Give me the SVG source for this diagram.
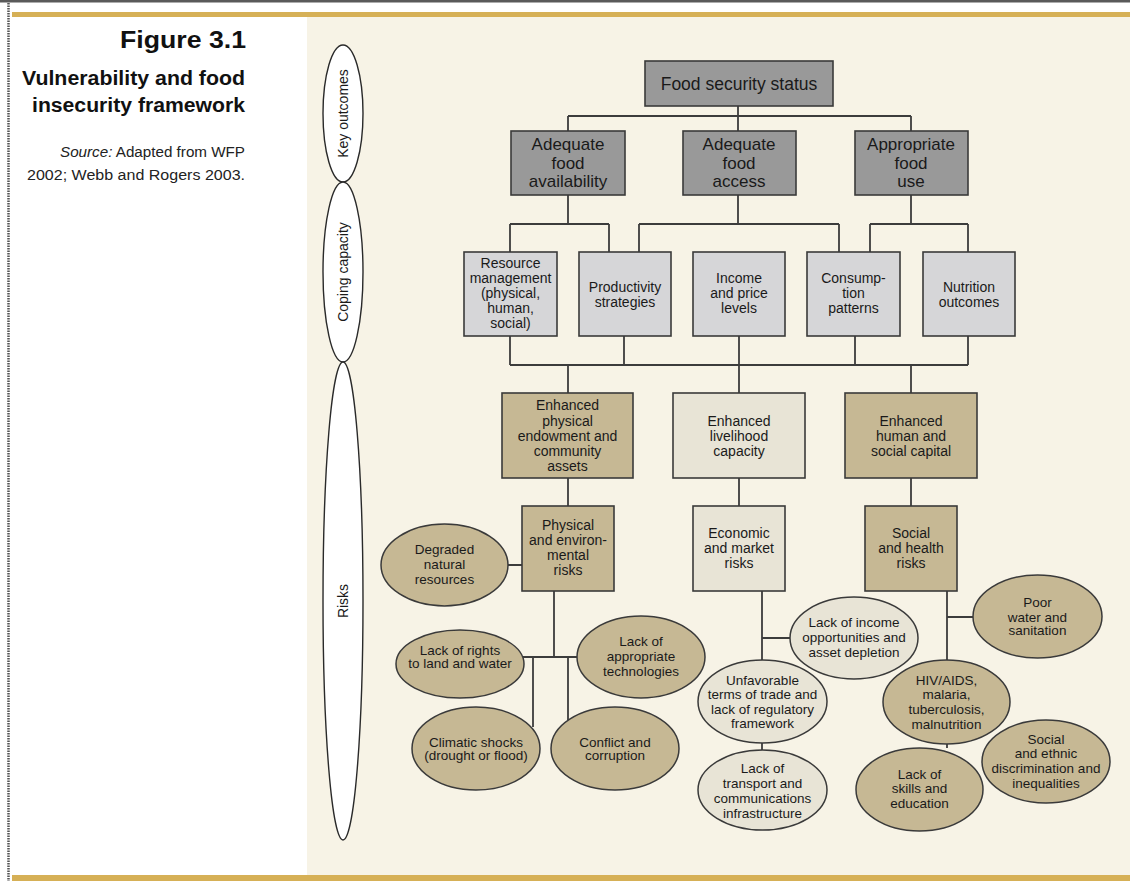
<svg xmlns="http://www.w3.org/2000/svg" width="1130" height="881" viewBox="0 0 1130 881">
<style>
.t{font-family:"Liberation Sans",Arial,sans-serif;fill:#1a1a1a;text-anchor:middle}
.b14{font-size:14px}
.b17{font-size:17px}
.e{font-size:13.5px}
.box{stroke:#3a3a3a;stroke-width:1.6}
.g1{fill:#999999}
.g2{fill:#d6d6d8}
.tan{fill:#c6b894}
.lt{fill:#e8e4d6}
.ell{stroke:#3a3a3a;stroke-width:1.5}
.side{fill:#ffffff;stroke:#2a2a2a;stroke-width:1.4}
.c{stroke:#3c3c3c;stroke-width:1.8;fill:none}
</style>
<rect x="0" y="0" width="1130" height="881" fill="#ffffff"/>
<rect x="0" y="0" width="1130" height="2.5" fill="#5a5a5a"/>
<line x1="8.5" y1="3" x2="8.5" y2="881" stroke="#555" stroke-width="2.5" stroke-dasharray="1.5 1"/>
<rect x="307" y="17" width="823" height="858" fill="#f7f3e6"/>
<rect x="12" y="12" width="1118" height="5" fill="#d6b056"/>
<rect x="12" y="875" width="1118" height="6" fill="#d6b056"/>

<g id="title">
<text x="246" y="48" style="font-family:'Liberation Sans',Arial,sans-serif;font-weight:bold;font-size:23px;fill:#111;text-anchor:end" textLength="126" lengthAdjust="spacingAndGlyphs">Figure 3.1</text>
<text x="245" y="85" style="font-family:'Liberation Sans',Arial,sans-serif;font-weight:bold;font-size:19.5px;fill:#111;text-anchor:end" textLength="223" lengthAdjust="spacingAndGlyphs">Vulnerability and food</text>
<text x="245" y="112" style="font-family:'Liberation Sans',Arial,sans-serif;font-weight:bold;font-size:19.5px;fill:#111;text-anchor:end" textLength="213" lengthAdjust="spacingAndGlyphs">insecurity framework</text>
<text x="245" y="157" style="font-family:'Liberation Sans',Arial,sans-serif;font-size:14px;fill:#222;text-anchor:end" textLength="185" lengthAdjust="spacingAndGlyphs"><tspan font-style="italic">Source:</tspan> Adapted from WFP</text>
<text x="245" y="180" style="font-family:'Liberation Sans',Arial,sans-serif;font-size:14px;fill:#222;text-anchor:end" textLength="218" lengthAdjust="spacingAndGlyphs">2002; Webb and Rogers 2003.</text>
</g>

<g id="side-labels">
<g id="side-key-outcomes"><ellipse class="side" cx="343" cy="113.5" rx="20" ry="68.5"/>
<text class="t" style="font-size:14px" transform="translate(348,113.5) rotate(-90)">Key outcomes</text></g>
<g id="side-coping"><ellipse class="side" cx="343" cy="272" rx="20" ry="90"/>
<text class="t" style="font-size:14px" transform="translate(348,272) rotate(-90)">Coping capacity</text></g>
<g id="side-risks"><ellipse class="side" cx="343" cy="601" rx="20" ry="239"/>
<text class="t" style="font-size:14px" transform="translate(348,601) rotate(-90)">Risks</text></g>
</g>

<g id="connectors">
<path class="c" d="M738,106 V116 M568,116 H911 M568,116 V131 M738,116 V131 M911,116 V131"/>
<path class="c" d="M568,195 V224 M510,224 H609 M510,224 V252 M609,224 V252"/>
<path class="c" d="M738,195 V224 M639,224 H839 M639,224 V252 M839,224 V252"/>
<path class="c" d="M911,195 V224 M870,224 H968 M870,224 V252 M968,224 V252"/>
<path class="c" d="M510,336 V365 M624,336 V365 M739,336 V365 M855,336 V365 M968,336 V365 M510,365 H968"/>
<path class="c" d="M568,365 V393 M739,365 V393 M911,365 V393"/>
<path class="c" d="M568,478 V506 M739,478 V506 M911,478 V506"/>
<path class="c" d="M508,565 H522 M554,591 V657 M523,657 H578 M533,657 V727 M568,657 V720"/>
<path class="c" d="M762,591 V660 M762,638 H790 M762,743 V750"/>
<path class="c" d="M947,591 V660 M947,617 H973 M947,744 V748"/>
</g>

<g id="n-food-security"><rect class="box g1" x="645" y="61" width="188" height="45"/>
<text class="t" style="font-size:17.5px" x="739" y="90">Food security status</text></g>

<g id="n-availability"><rect class="box g1" x="511" y="131" width="114" height="64"/>
<text class="t b17" x="568"><tspan x="568" y="150">Adequate</tspan><tspan x="568" y="168.5">food</tspan><tspan x="568" y="187">availability</tspan></text></g>
<g id="n-access"><rect class="box g1" x="683" y="131" width="113" height="64"/>
<text class="t b17" x="739"><tspan x="739" y="150">Adequate</tspan><tspan x="739" y="168.5">food</tspan><tspan x="739" y="187">access</tspan></text></g>
<g id="n-use"><rect class="box g1" x="855" y="131" width="113" height="64"/>
<text class="t b17" x="911"><tspan x="911" y="150">Appropriate</tspan><tspan x="911" y="168.5">food</tspan><tspan x="911" y="187">use</tspan></text></g>

<g id="n-resource"><rect class="box g2" x="464" y="252" width="93" height="84"/>
<text class="t b14"><tspan x="510.5" y="268">Resource</tspan><tspan x="510.5" y="283">management</tspan><tspan x="510.5" y="298">(physical,</tspan><tspan x="510.5" y="313">human,</tspan><tspan x="510.5" y="328">social)</tspan></text></g>
<g id="n-productivity"><rect class="box g2" x="579" y="252" width="92" height="84"/>
<text class="t b14"><tspan x="625" y="292">Productivity</tspan><tspan x="625" y="307">strategies</tspan></text></g>
<g id="n-income"><rect class="box g2" x="693" y="252" width="92" height="84"/>
<text class="t b14"><tspan x="739" y="283">Income</tspan><tspan x="739" y="298">and price</tspan><tspan x="739" y="313">levels</tspan></text></g>
<g id="n-consumption"><rect class="box g2" x="807" y="252" width="93" height="84"/>
<text class="t b14"><tspan x="853.5" y="283">Consump-</tspan><tspan x="853.5" y="298">tion</tspan><tspan x="853.5" y="313">patterns</tspan></text></g>
<g id="n-nutrition"><rect class="box g2" x="923" y="252" width="92" height="84"/>
<text class="t b14"><tspan x="969" y="292">Nutrition</tspan><tspan x="969" y="307">outcomes</tspan></text></g>

<g id="n-enh-physical"><rect class="box tan" x="502" y="393" width="131" height="85"/>
<text class="t b14"><tspan x="567.5" y="410">Enhanced</tspan><tspan x="567.5" y="426">physical</tspan><tspan x="567.5" y="441">endowment and</tspan><tspan x="567.5" y="456">community</tspan><tspan x="567.5" y="471">assets</tspan></text></g>
<g id="n-enh-livelihood"><rect class="box lt" x="673" y="393" width="132" height="85"/>
<text class="t b14"><tspan x="739" y="426">Enhanced</tspan><tspan x="739" y="441">livelihood</tspan><tspan x="739" y="456">capacity</tspan></text></g>
<g id="n-enh-human"><rect class="box tan" x="845" y="393" width="132" height="85"/>
<text class="t b14"><tspan x="911" y="426">Enhanced</tspan><tspan x="911" y="441">human and</tspan><tspan x="911" y="456">social capital</tspan></text></g>

<g id="n-phys-risks"><rect class="box tan" x="522" y="506" width="92" height="85"/>
<text class="t b14"><tspan x="568" y="530">Physical</tspan><tspan x="568" y="545">and environ-</tspan><tspan x="568" y="560">mental</tspan><tspan x="568" y="575">risks</tspan></text></g>
<g id="n-econ-risks"><rect class="box lt" x="693" y="506" width="92" height="85"/>
<text class="t b14"><tspan x="739" y="538">Economic</tspan><tspan x="739" y="553">and market</tspan><tspan x="739" y="568">risks</tspan></text></g>
<g id="n-social-risks"><rect class="box tan" x="865" y="506" width="92" height="85"/>
<text class="t b14"><tspan x="911" y="538">Social</tspan><tspan x="911" y="553">and health</tspan><tspan x="911" y="568">risks</tspan></text></g>

<g id="n-degraded"><ellipse class="ell tan" cx="444.5" cy="565" rx="63.5" ry="41"/>
<text class="t e"><tspan x="444.5" y="553.5">Degraded</tspan><tspan x="444.5" y="568.5">natural</tspan><tspan x="444.5" y="583.5">resources</tspan></text></g>
<g id="n-rights"><ellipse class="ell tan" cx="460" cy="664" rx="64" ry="34"/>
<text class="t e"><tspan x="460" y="654.5">Lack of rights</tspan><tspan x="460" y="668">to land and water</tspan></text></g>
<g id="n-technologies"><ellipse class="ell tan" cx="641" cy="657" rx="64" ry="41"/>
<text class="t e"><tspan x="641" y="645.5">Lack of</tspan><tspan x="641" y="660.5">appropriate</tspan><tspan x="641" y="676">technologies</tspan></text></g>
<g id="n-climatic"><ellipse class="ell tan" cx="476" cy="748.5" rx="64" ry="41.5"/>
<text class="t e"><tspan x="476" y="746.5">Climatic shocks</tspan><tspan x="476" y="760">(drought or flood)</tspan></text></g>
<g id="n-conflict"><ellipse class="ell tan" cx="615" cy="748.5" rx="64" ry="41.5"/>
<text class="t e"><tspan x="615" y="746.5">Conflict and</tspan><tspan x="615" y="760">corruption</tspan></text></g>

<g id="n-income-opp"><ellipse class="ell lt" cx="854" cy="638" rx="64" ry="41"/>
<text class="t e"><tspan x="854" y="626.5">Lack of income</tspan><tspan x="854" y="641.5">opportunities and</tspan><tspan x="854" y="656.5">asset depletion</tspan></text></g>
<g id="n-unfavorable"><ellipse class="ell lt" cx="762.5" cy="701.5" rx="64.5" ry="41.5"/>
<text class="t e"><tspan x="762.5" y="684.5">Unfavorable</tspan><tspan x="762.5" y="699">terms of trade and</tspan><tspan x="762.5" y="713.5">lack of regulatory</tspan><tspan x="762.5" y="728">framework</tspan></text></g>
<g id="n-transport"><ellipse class="ell lt" cx="762.5" cy="790" rx="64.5" ry="40"/>
<text class="t e"><tspan x="762.5" y="772.5">Lack of</tspan><tspan x="762.5" y="788">transport and</tspan><tspan x="762.5" y="803">communications</tspan><tspan x="762.5" y="817.5">infrastructure</tspan></text></g>

<g id="n-water"><ellipse class="ell tan" cx="1037.5" cy="616.5" rx="64.5" ry="41.5"/>
<text class="t e"><tspan x="1037.5" y="606.5">Poor</tspan><tspan x="1037.5" y="621.5">water and</tspan><tspan x="1037.5" y="635">sanitation</tspan></text></g>
<g id="n-hiv"><ellipse class="ell tan" cx="946.5" cy="702" rx="63.5" ry="42"/>
<text class="t e"><tspan x="946.5" y="684.5">HIV/AIDS,</tspan><tspan x="946.5" y="698.5">malaria,</tspan><tspan x="946.5" y="713.5">tuberculosis,</tspan><tspan x="946.5" y="728.5">malnutrition</tspan></text></g>
<g id="n-discrimination"><ellipse class="ell tan" cx="1046" cy="761.5" rx="64" ry="41.5"/>
<text class="t e"><tspan x="1046" y="743.5">Social</tspan><tspan x="1046" y="757.5">and ethnic</tspan><tspan x="1046" y="772.5">discrimination and</tspan><tspan x="1046" y="787.5">inequalities</tspan></text></g>
<g id="n-skills"><ellipse class="ell tan" cx="919.5" cy="789.5" rx="63.5" ry="41.5"/>
<text class="t e"><tspan x="919.5" y="778.5">Lack of</tspan><tspan x="919.5" y="792.5">skills and</tspan><tspan x="919.5" y="807.5">education</tspan></text></g>
</svg>
